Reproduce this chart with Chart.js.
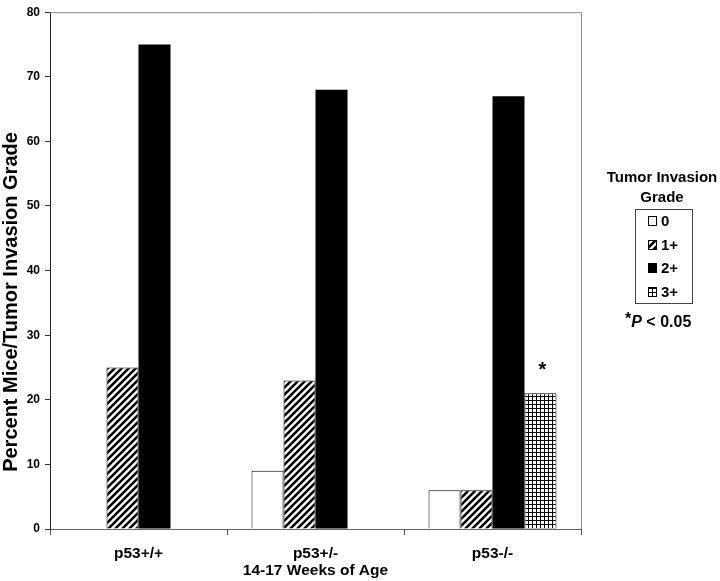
<!DOCTYPE html>
<html>
<head>
<meta charset="utf-8">
<script src="https://cdn.jsdelivr.net/npm/chart.js@4.4.0/dist/chart.umd.min.js"></script>
<style>
  html, body { margin: 0; padding: 0; background: #fff; }
  #wrap { width: 720px; height: 581px; }
</style>
</head>
<body>
<div id="wrap"><canvas id="chart" width="720" height="581"></canvas></div>
<script>
// ---- data ----
const categories = [["p53+/+"], ["p53+/-", "14-17 Weeks of Age"], ["p53-/-"]];
const gradeLabels = ["0", "1+", "2+", "3+"];
const grade0 = [0, 9, 6];
const grade1 = [25, 23, 6];
const grade2 = [75, 68, 67];
const grade3 = [0, 0, 21];
const yMax = 80;
const yStep = 10;

const FONT = "'Liberation Sans', Arial, Helvetica, sans-serif";

/* ---------------- patterns ---------------- */

function hatchPattern() {
    const s = 7;
    const c = document.createElement("canvas");
    c.width = s; c.height = s;
    const g = c.getContext("2d");
    g.fillStyle = "#fff";
    g.fillRect(0, 0, s, s);
    g.strokeStyle = "#000";
    g.lineWidth = 2.6;
    g.beginPath();
    g.moveTo(0, s); g.lineTo(s, 0);
    g.moveTo(-2, 2); g.lineTo(2, -2);
    g.moveTo(s - 2, s + 2); g.lineTo(s + 2, s - 2);
    g.stroke();
    return g.createPattern(c, "repeat");
}

function gridPattern() {
    const s = 4;
    const c = document.createElement("canvas");
    c.width = s; c.height = s;
    const g = c.getContext("2d");
    g.fillStyle = "#fff";
    g.fillRect(0, 0, s, s);
    g.fillStyle = "#000";
    g.fillRect(0, 0, s, 1);
    g.fillRect(0, 0, 1, s);
    return g.createPattern(c, "repeat");
}

const fills = ["#ffffff", hatchPattern(), "#000000", gridPattern()];

/* ---------------- plugins ---------------- */

const frame = {
    id: "frame",
    afterDatasetsDraw(chart) {
        const { ctx, chartArea: a } = chart;
        ctx.save();
        ctx.strokeStyle = "#888";
        ctx.lineWidth = 1;
        ctx.beginPath();
        ctx.moveTo(a.left, a.top + 0.5);
        ctx.lineTo(a.right + 0.5, a.top + 0.5);
        ctx.lineTo(a.right + 0.5, a.bottom);
        ctx.stroke();
        ctx.restore();
    }
};

const extras = {
    id: "extras",
    afterDraw(chart) {
        const ctx = chart.ctx;
        ctx.save();
        ctx.fillStyle = "#000";

        // y title
        ctx.save();
        ctx.translate(11, 302);
        ctx.rotate(-Math.PI / 2);
        ctx.font = "bold 20px " + FONT;
        ctx.textAlign = "center";
        ctx.textBaseline = "middle";
        ctx.fillText("Percent Mice/Tumor Invasion Grade", 0, 0);
        ctx.restore();

        // asterisk over the grade 3+ bar of p53-/-
        const bar = chart.getDatasetMeta(3).data[2];
        ctx.font = "bold 20px " + FONT;
        ctx.textAlign = "center";
        ctx.textBaseline = "middle";
        ctx.fillText("*", bar.x + 2, bar.y - 23);

        // legend
        const cx = 662;
        ctx.font = "bold 15px " + FONT;
        ctx.fillText("Tumor Invasion", cx, 178);
        ctx.fillText("Grade", cx, 198);

        ctx.strokeStyle = "#444";
        ctx.lineWidth = 1;
        ctx.strokeRect(635.5, 209.5, 57, 94);

        const rowY = [221, 245, 268, 292];
        ctx.textAlign = "left";
        gradeLabels.forEach((lab, i) => {
            const y = rowY[i];
            ctx.fillStyle = fills[i];
            ctx.fillRect(648, y - 5, 9, 10);
            ctx.strokeStyle = "#000";
            ctx.strokeRect(648.5, y - 4.5, 8, 9);
            ctx.fillStyle = "#000";
            ctx.font = "bold 15px " + FONT;
            ctx.fillText(lab, 661, y + 1);
        });

        // significance note
        ctx.font = "bold 16px " + FONT;
        let x = 625;
        const y = 323;
        ctx.fillText("*", x, y - 3);
        x += ctx.measureText("*").width;
        ctx.font = "italic bold 16px " + FONT;
        ctx.fillText("P", x, y);
        x += ctx.measureText("P").width;
        ctx.font = "bold 16px " + FONT;
        ctx.fillText(" < 0.05", x, y);

        ctx.restore();
    }
};

/* ---------------- chart ---------------- */

const series = [grade0, grade1, grade2, grade3];

new Chart(document.getElementById("chart"), {
    type: "bar",
    data: {
        labels: categories,
        datasets: series.map((d, i) => ({
            label: gradeLabels[i],
            data: d,
            backgroundColor: fills[i],
            borderColor: "#000",
            borderWidth: i === 2 ? 0 : 1,
            borderSkipped: "bottom",
            barPercentage: 1,
            categoryPercentage: 0.723
        }))
    },
    options: {
        responsive: false,
        animation: false,
        devicePixelRatio: 1,
        layout: { padding: { top: 8, right: 139, left: 0, bottom: 0 } },
        plugins: {
            legend: { display: false },
            tooltip: { enabled: false }
        },
        scales: {
            x: {
                offset: true,
                grid: {
                    offset: true,
                    drawOnChartArea: false,
                    tickLength: 6,
                    color: "#555"
                },
                border: { color: "#666" },
                ticks: {
                    color: "#000",
                    padding: 10,
                    font: { family: FONT, weight: "bold", size: 15.5, lineHeight: 1.12 }
                },
                afterFit(s) { s.height = 52; }
            },
            y: {
                min: 0,
                max: yMax,
                ticks: {
                    stepSize: yStep,
                    color: "#000",
                    padding: 5,
                    font: { family: FONT, weight: "bold", size: 12 }
                },
                grid: {
                    drawOnChartArea: false,
                    tickLength: 5,
                    color: "#333"
                },
                border: { color: "#222" },
                afterFit(s) { s.width = 50; }
            }
        }
    },
    plugins: [frame, extras]
});
</script>
</body>
</html>
